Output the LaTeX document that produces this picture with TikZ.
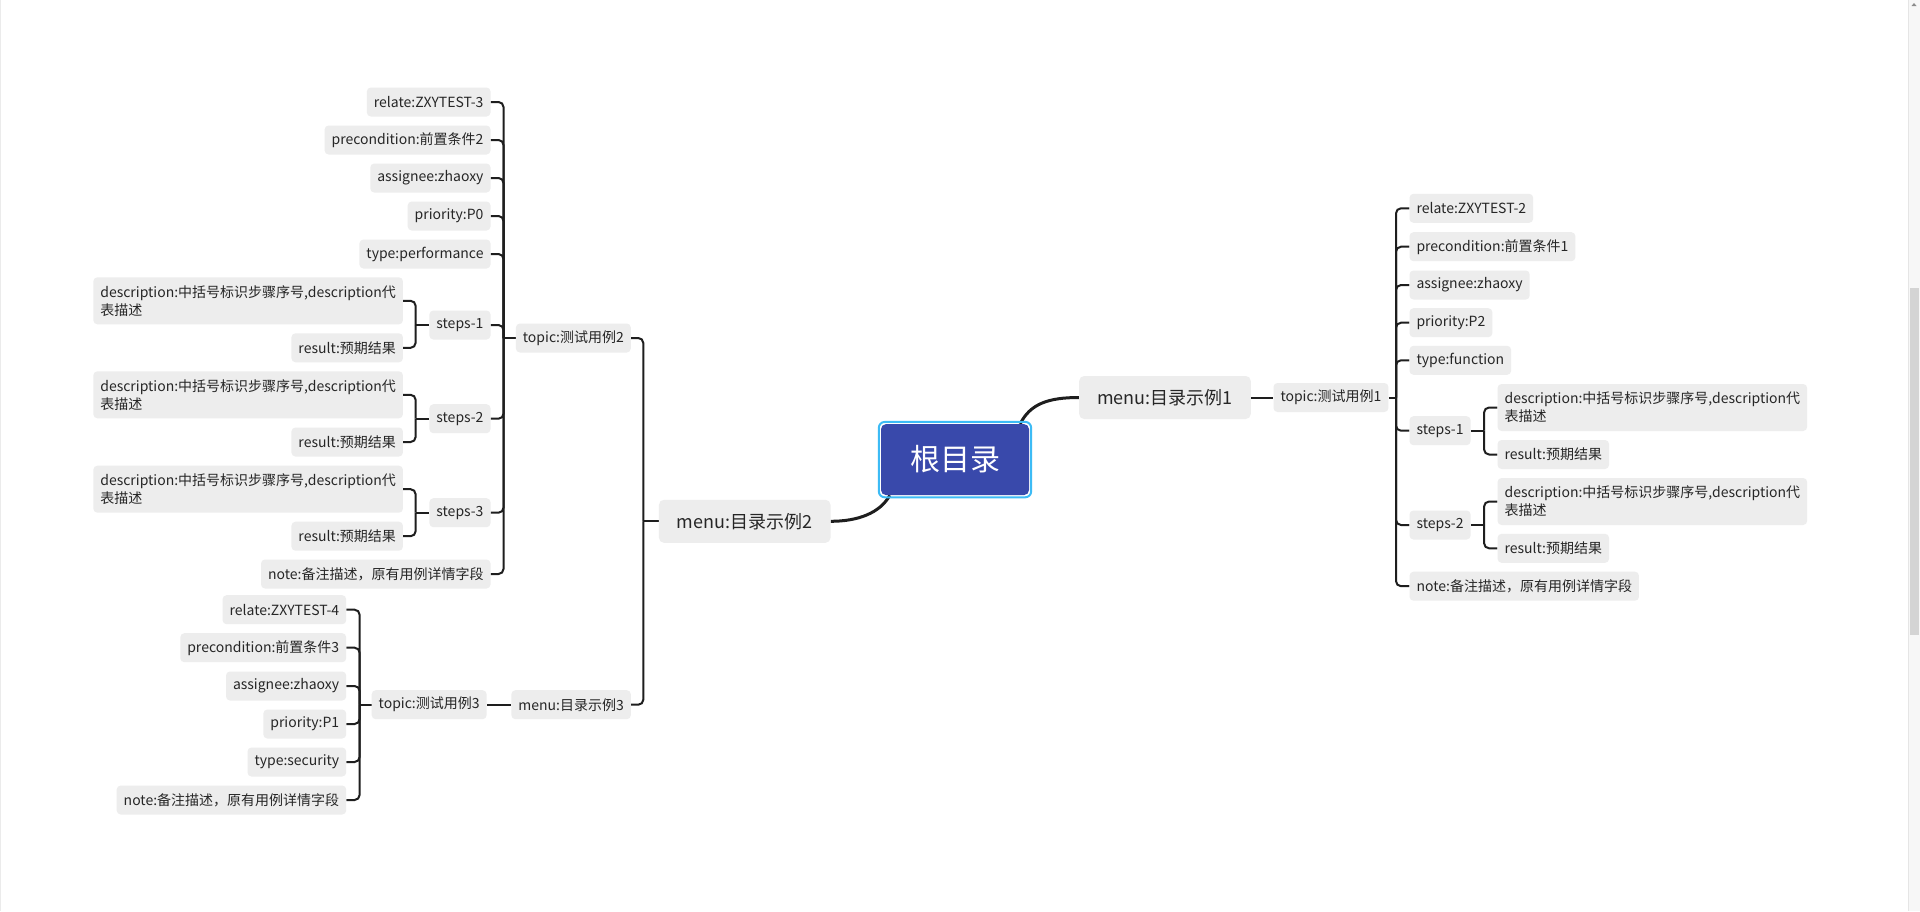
\documentclass[tikz,border=0pt]{standalone}
\usepackage{fontspec}
\setmainfont{Noto Sans CJK SC}
\usetikzlibrary{calc,backgrounds}
\definecolor{boxgray}{HTML}{EDEDED}
\definecolor{txt}{HTML}{262626}
\definecolor{linec}{HTML}{1E1E1E}
\definecolor{rootblue}{HTML}{3949AB}
\definecolor{rootrim}{HTML}{3DBBF5}
\tikzset{
  leaf/.style={fill=boxgray, rounded corners=4pt, inner xsep=7pt, inner ysep=0pt, minimum height=29pt, text=txt, font=\fontsize{14}{18}\selectfont},
  descbox/.style={leaf, align=left, minimum height=47pt},
  menubox/.style={fill=boxgray, rounded corners=5pt, inner xsep=18pt, inner ysep=0pt, minimum height=43pt, text=txt, font=\fontsize{18}{22}\selectfont},
  rootbox/.style={fill=rootblue, rounded corners=5pt, minimum width=148pt, minimum height=71pt, inner sep=0pt, text=white, font=\fontsize{30}{34}\selectfont},
  conn/.style={draw=linec, line width=2pt, rounded corners=5pt},
  rootconn/.style={draw=linec, line width=3pt},
}
\begin{document}
\begin{tikzpicture}[x=1pt,y=-1pt]
\useasboundingbox (0,0) rectangle (1920,911);

% ---------- root ----------
\node[rootbox] (root) at (955,459.6) {根目录};
\draw[rootrim, line width=2pt, rounded corners=6pt] ([xshift=-2pt,yshift=2pt]root.north west) rectangle ([xshift=2pt,yshift=-2pt]root.south east);

% ---------- right branch ----------
\node[menubox, anchor=west] (m1) at (1079,397.5) {menu:目录示例1};
\node[leaf, anchor=west] (t1) at (1273.3,397.5) {topic:测试用例1};
\coordinate (tr1) at (1396,397.5);
\node[leaf, anchor=west] (rrel) at (1409.3,208.3) {relate:ZXYTEST-2};
\node[leaf, anchor=west] (rpre) at (1409.3,246.7) {precondition:前置条件1};
\node[leaf, anchor=west] (rasg) at (1409.3,285) {assignee:zhaoxy};
\node[leaf, anchor=west] (rpri) at (1409.3,322.7) {priority:P2};
\node[leaf, anchor=west] (rtyp) at (1409.3,360.3) {type:function};
\node[leaf, anchor=west] (rs1) at (1409.3,430.7) {steps-1};
\node[leaf, anchor=west] (rs2) at (1409.3,525) {steps-2};
\node[leaf, anchor=west] (rnote) at (1409.3,586.2) {note:备注描述，原有用例详情字段};
\coordinate (rb1) at ($(rs1.east)+(13.3,0)$);
\node[descbox, anchor=west] (rd1) at ($(rb1)+(13.3,-23.2)$) {description:中括号标识步骤序号,description代\\表描述};
\node[leaf, anchor=west] (rr1) at ($(rb1)+(13.3,23.8)$) {result:预期结果};
\coordinate (rb2) at ($(rs2.east)+(13.3,0)$);
\node[descbox, anchor=west] (rd2) at ($(rb2)+(13.3,-23.5)$) {description:中括号标识步骤序号,description代\\表描述};
\node[leaf, anchor=west] (rr2) at ($(rb2)+(13.3,23.3)$) {result:预期结果};

% ---------- left branch ----------
\node[menubox, anchor=east] (m2) at (830.7,521.3) {menu:目录示例2};
\coordinate (mL) at (643.3,521.3);
\node[leaf, anchor=east] (t2) at (631,338) {topic:测试用例2};
\node[leaf, anchor=east] (m3) at (631,704.7) {menu:目录示例3};
\node[leaf, anchor=east] (t3) at (486.8,704.7) {topic:测试用例3};
\coordinate (tr2) at (503.5,338);
\coordinate (tr3) at (359.6,704.7);

\node[leaf, anchor=east] (lrel) at (490.7,102) {relate:ZXYTEST-3};
\node[leaf, anchor=east] (lpre) at (490.7,140) {precondition:前置条件2};
\node[leaf, anchor=east] (lasg) at (490.7,178) {assignee:zhaoxy};
\node[leaf, anchor=east] (lpri) at (490.7,216) {priority:P0};
\node[leaf, anchor=east] (ltyp) at (490.7,254) {type:performance};
\node[leaf, anchor=east] (ls1) at (490.7,325) {steps-1};
\node[leaf, anchor=east] (ls2) at (490.7,418.7) {steps-2};
\node[leaf, anchor=east] (ls3) at (490.7,512.7) {steps-3};
\node[leaf, anchor=east] (lnote) at (490.7,574) {note:备注描述，原有用例详情字段};
\coordinate (lb1) at ($(ls1.west)+(-13.6,0)$);
\node[descbox, anchor=east] (ld1) at ($(lb1)+(-12.5,-24.2)$) {description:中括号标识步骤序号,description代\\表描述};
\node[leaf, anchor=east] (lr1) at ($(lb1)+(-12.5,22.8)$) {result:预期结果};
\coordinate (lb2) at ($(ls2.west)+(-13.6,0)$);
\node[descbox, anchor=east] (ld2) at ($(lb2)+(-12.5,-23.9)$) {description:中括号标识步骤序号,description代\\表描述};
\node[leaf, anchor=east] (lr2) at ($(lb2)+(-12.5,23.3)$) {result:预期结果};
\coordinate (lb3) at ($(ls3.west)+(-13.6,0)$);
\node[descbox, anchor=east] (ld3) at ($(lb3)+(-12.5,-23.5)$) {description:中括号标识步骤序号,description代\\表描述};
\node[leaf, anchor=east] (lr3) at ($(lb3)+(-12.5,23.5)$) {result:预期结果};

\node[leaf, anchor=east] (krel) at (346.4,609.7) {relate:ZXYTEST-4};
\node[leaf, anchor=east] (kpre) at (346.4,647.7) {precondition:前置条件3};
\node[leaf, anchor=east] (kasg) at (346.4,686) {assignee:zhaoxy};
\node[leaf, anchor=east] (kpri) at (346.4,724) {priority:P1};
\node[leaf, anchor=east] (ktyp) at (346.4,762) {type:security};
\node[leaf, anchor=east] (knote) at (346.4,800) {note:备注描述，原有用例详情字段};

% ---------- background and connectors ----------
\begin{pgfonlayer}{background}
\fill[white] (0,0) rectangle (1920,911);
\draw[black!8, line width=1pt] (0.5,0) -- (0.5,911);
\fill[black!3] (1908,0) rectangle (1920,911);
\draw[black!10, line width=0.8pt] (1908,0) -- (1908,911);
\fill[black!17] (1909.5,288) rectangle (1918.5,635);
\fill[black!45] (1911.5,6) -- (1914,3) -- (1916.5,6) -- cycle;

\draw[rootconn] ([xshift=-9pt]root.north east) .. controls (1030,404) and (1048,397.5) .. (m1.west);
\draw[rootconn] ([xshift=9pt]root.south west) .. controls (880,513) and (858,521.3) .. (m2.east);

\draw[conn] (m1.east) -- (t1.west);
\draw[conn] (t1.east) -- (tr1);
\foreach \n in {rrel,rpre,rasg,rpri,rtyp,rs1,rs2,rnote} \draw[conn] (tr1) |- (\n.west);
\draw[conn] (rs1.east) -- (rb1);
\draw[conn] (rb1) |- (rd1.west);
\draw[conn] (rb1) |- (rr1.west);
\draw[conn] (rs2.east) -- (rb2);
\draw[conn] (rb2) |- (rd2.west);
\draw[conn] (rb2) |- (rr2.west);

\draw[conn] (m2.west) -- (mL);
\draw[conn] (mL) |- (t2.east);
\draw[conn] (mL) |- (m3.east);
\draw[conn] (m3.west) -- (t3.east);
\draw[conn] (t2.west) -- (tr2);
\foreach \n in {lrel,lpre,lasg,lpri,ltyp,ls1,ls2,ls3,lnote} \draw[conn] (tr2) |- (\n.east);
\draw[conn] (ls1.west) -- (lb1);
\draw[conn] (lb1) |- (ld1.east);
\draw[conn] (lb1) |- (lr1.east);
\draw[conn] (ls2.west) -- (lb2);
\draw[conn] (lb2) |- (ld2.east);
\draw[conn] (lb2) |- (lr2.east);
\draw[conn] (ls3.west) -- (lb3);
\draw[conn] (lb3) |- (ld3.east);
\draw[conn] (lb3) |- (lr3.east);
\draw[conn] (t3.west) -- (tr3);
\foreach \n in {krel,kpre,kasg,kpri,ktyp,knote} \draw[conn] (tr3) |- (\n.east);
\end{pgfonlayer}
\end{tikzpicture}
\end{document}
